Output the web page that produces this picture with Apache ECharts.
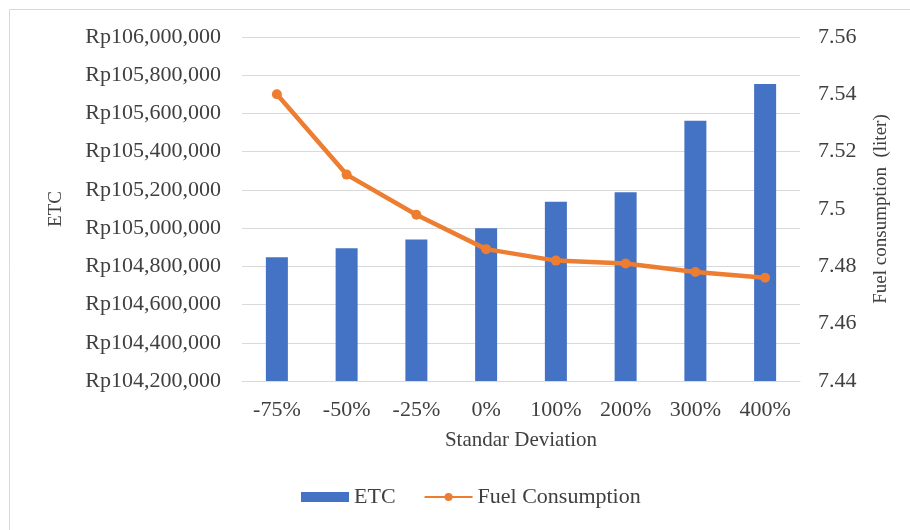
<!DOCTYPE html>
<html>
<head>
<meta charset="utf-8">
<script src="https://cdn.jsdelivr.net/npm/echarts@6/dist/echarts.min.js"></script>
<style>
  html, body { margin: 0; padding: 0; background: #ffffff; }
  #chart { width: 910px; height: 530px; }
</style>
</head>
<body>
<div id="chart"></div>
<script>
// Standard deviation scenarios on the category axis
const categories = ['-75%', '-50%', '-25%', '0%', '100%', '200%', '300%', '400%'];
// Expected total cost (Rupiah) per scenario
const etcValues = [104847000, 104894000, 104941000, 104999000, 105138000, 105187000, 105562000, 105754000];
// Fuel consumption (liter) per scenario
const fuelValues = [7.540, 7.512, 7.498, 7.486, 7.482, 7.481, 7.478, 7.476];

const FONT = '"Liberation Serif", "Times New Roman", serif';
const TEXT = '#404040';
const GRID = '#d9d9d9';

const chart = echarts.init(document.getElementById('chart'), null, { renderer: 'canvas' });

chart.setOption({
  backgroundColor: '#ffffff',
  animation: false,
  textStyle: { fontFamily: FONT, color: TEXT },
  graphic: [{
    type: 'rect',
    shape: { x: 9.5, y: 9.5, width: 920, height: 540 },
    style: { fill: 'none', stroke: GRID, lineWidth: 1 },
    silent: true
  }],
  grid: { left: 242, right: 110, top: 37, bottom: 149, containLabel: false },
  legend: {
    bottom: 17,
    left: 296,
    itemGap: 28,
    itemWidth: 48,
    itemHeight: 10,
    textStyle: { fontFamily: FONT, fontSize: 22, color: TEXT },
    data: [
      { name: 'ETC', icon: 'rect' },
      { name: 'Fuel Consumption' }
    ]
  },
  xAxis: {
    type: 'category',
    data: categories,
    name: 'Standar Deviation',
    nameLocation: 'middle',
    nameGap: 49,
    nameTextStyle: { fontFamily: FONT, fontSize: 21, color: TEXT },
    axisLine: { lineStyle: { color: GRID, width: 1 } },
    axisTick: { show: false },
    axisLabel: { fontFamily: FONT, fontSize: 22, color: TEXT, margin: 18 }
  },
  yAxis: [
    {
      type: 'value',
      min: 104200000,
      max: 106000000,
      interval: 200000,
      name: 'ETC',
      nameLocation: 'middle',
      nameRotate: 90,
      nameGap: 176,
      nameTextStyle: { fontFamily: FONT, fontSize: 19, color: TEXT },
      axisLine: { show: false },
      axisTick: { show: false },
      splitLine: { show: true, lineStyle: { color: GRID, width: 1 } },
      axisLabel: {
        fontFamily: FONT, fontSize: 22, color: TEXT, margin: 21,
        formatter: v => 'Rp' + Math.round(v).toLocaleString('en-US')
      }
    },
    {
      type: 'value',
      min: 7.44,
      max: 7.56,
      interval: 0.02,
      position: 'right',
      name: 'Fuel consumption  (liter)',
      nameLocation: 'middle',
      nameRotate: 90,
      nameGap: 72,
      nameTextStyle: { fontFamily: FONT, fontSize: 19, color: TEXT },
      axisLine: { show: false },
      axisTick: { show: false },
      splitLine: { show: false },
      axisLabel: {
        fontFamily: FONT, fontSize: 22, color: TEXT, margin: 18,
        formatter: v => String(parseFloat(v.toFixed(2)))
      }
    }
  ],
  series: [
    {
      name: 'ETC',
      type: 'bar',
      yAxisIndex: 0,
      data: etcValues,
      barWidth: 22,
      itemStyle: { color: '#4472C4' }
    },
    {
      name: 'Fuel Consumption',
      type: 'line',
      yAxisIndex: 1,
      data: fuelValues,
      symbol: 'circle',
      symbolSize: 10,
      lineStyle: { color: '#ED7D31', width: 4.5 },
      itemStyle: { color: '#ED7D31' }
    }
  ]
});
</script>
</body>
</html>
